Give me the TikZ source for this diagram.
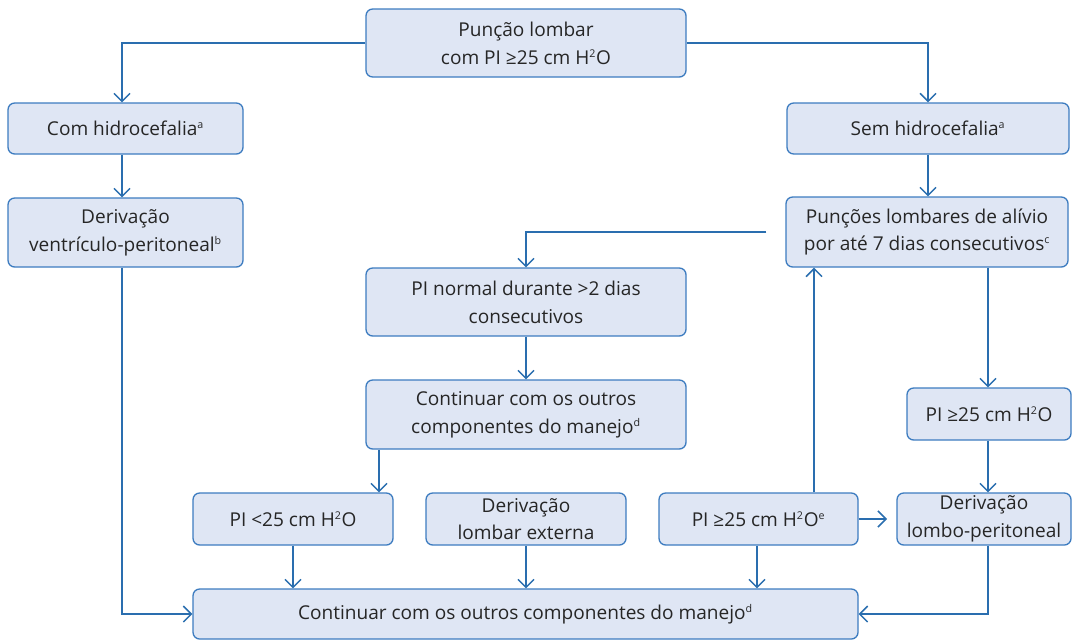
\documentclass[tikz,border=0pt]{standalone}
\usepackage{fontspec}
\setmainfont{Open Sans}
\usetikzlibrary{arrows.meta,calc}
\definecolor{boxfill}{HTML}{DFE6F4}
\definecolor{boxline}{HTML}{3D7CC0}
\definecolor{conline}{HTML}{2A6EAF}
\definecolor{txt}{HTML}{262626}
\newcommand{\sps}[1]{\textsuperscript{\fontsize{8}{8}\selectfont #1}}
\newcommand{\boxnode}[6]{\node[box,minimum width={(#4-#2)*0.75pt},minimum height={(#5-#3)*0.75pt}] (#1) at ({(#2+#4)/2},{(#3+#5)/2}) {#6};}
\begin{document}
\begin{tikzpicture}[x=0.75pt,y=-0.75pt,
  box/.style={draw=boxline,fill=boxfill,line width=1pt,rounded corners=5pt,inner sep=0pt,align=center,text=txt,font=\fontsize{14.3}{20.8}\selectfont},
  arr/.style={draw=conline,line width=1.3pt,-{Straight Barb[length=6pt,width=12pt,line width=1.1pt]}}]
\useasboundingbox (0,0) rectangle (1073,640);
\boxnode{top}{366}{9}{686}{77}{Punção lombar\\com PI ≥25 cm H\sps{2}O}
\boxnode{com}{8}{103}{243}{154}{Com hidrocefalia\sps{a}}
\boxnode{sem}{787}{103}{1069}{154}{Sem hidrocefalia\sps{a}}
\boxnode{vp}{8}{198}{243}{267}{Derivação\\ventrículo-peritoneal\sps{b}}
\boxnode{punc}{786}{197}{1068}{267}{Punções lombares de alívio\\por até 7 dias consecutivos\sps{c}}
\boxnode{pinorm}{366}{268}{686}{336}{PI normal durante >2 dias\\consecutivos}
\boxnode{cont}{366}{380}{686}{449}{Continuar com os outros\\componentes do manejo\sps{d}}
\boxnode{pige}{907}{388}{1071}{440}{PI ≥25 cm H\sps{2}O}
\boxnode{pilt}{193}{493}{393}{545}{PI <25 cm H\sps{2}O}
\boxnode{lext}{426}{493}{626}{545}{Derivação\\lombar externa}
\boxnode{pigee}{659}{493}{858}{545}{PI ≥25 cm H\sps{2}O\sps{e}}
\boxnode{lombo}{897}{493}{1071}{545}{Derivação\\lombo-peritoneal}
\boxnode{bot}{193}{589}{858}{639}{Continuar com os outros componentes do manejo\sps{d}}
\coordinate (x122) at (122,0);
\coordinate (x379) at (379,0);
\coordinate (x814) at (814,0);
\coordinate (x757) at (757,0);
\coordinate (x988) at (988,0);
\draw[arr] (top.west) -| (x122 |- com.north);
\draw[arr] (top.east) -| (sem.north);
\draw[arr] (x122 |- com.south) -- (x122 |- vp.north);
\draw[arr] (sem.south) -- (sem.south |- punc.north);
\draw[arr] ([xshift=-14.25pt]punc.west) -| (pinorm.north);
\draw[arr] (pinorm.south) -- (cont.north);
\draw[arr] (x379 |- cont.south) -- (x379 |- pilt.north);
\draw[arr] (x122 |- vp.south) |- (bot.west);
\draw[arr] (pilt.south) -- (pilt.south |- bot.north);
\draw[arr] (lext.south) -- (lext.south |- bot.north);
\draw[arr] (x757 |- pigee.south) -- (x757 |- bot.north);
\draw[arr] (x814 |- pigee.north) -- (x814 |- punc.south);
\draw[arr,shorten >=7pt] (pigee.east) -- (lombo.west);
\draw[arr] (x988 |- punc.south) -- (x988 |- pige.north);
\draw[arr] (x988 |- pige.south) -- (x988 |- lombo.north);
\draw[arr] (x988 |- lombo.south) |- (bot.east);
\end{tikzpicture}
\end{document}
